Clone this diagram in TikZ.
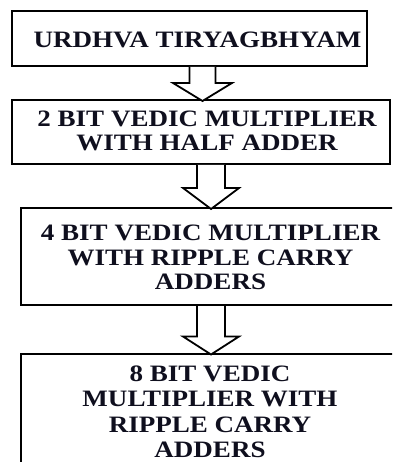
\documentclass[tikz,border=0pt]{standalone}
\usepackage{fontspec}
\setmainfont{Liberation Serif}[FakeStretch=1.15]
\usetikzlibrary{calc}
\definecolor{txt}{RGB}{15,15,30}
\tikzset{
  box/.style={draw=black, line width=2pt, fill=white, inner sep=0pt, rectangle},
  lbl/.style={text=txt, align=center, inner sep=0pt, font=\bfseries\fontsize{23.5}{24.5}\selectfont},
  blockarrow/.style={draw=black, line width=1.8pt, fill=white, line join=miter}
}
\begin{document}
\begin{tikzpicture}[x=1pt,y=-1pt]
\clip (0,0) rectangle (392,462);
\fill[white] (0,0) rectangle (392,462);
% boxes
\node[box, minimum width=355pt, minimum height=55pt] (b1) at (189.5,38.5) {};
\node[box, minimum width=378pt, minimum height=64pt] (b2) at (201,132) {};
\node[box, minimum width=379pt, minimum height=97pt] (b3) at (210.5,256.5) {};
\node[box, minimum width=379pt, minimum height=116pt] (b4) at (210.5,412) {};
% labels
\node[lbl] (l1) at (197.5,39.5) {URDHVA TIRYAGBHYAM};
\node[lbl] (l2) at (207,131) {2 BIT VEDIC MULTIPLIER\\WITH HALF ADDER};
\node[lbl] (l3) at (210.5,257.5) {4 BIT VEDIC MULTIPLIER\\WITH RIPPLE CARRY\\ADDERS};
\node[lbl, font=\bfseries\fontsize{23.5}{25.5}\selectfont] (l4) at (210,412) {8 BIT VEDIC\\MULTIPLIER WITH\\RIPPLE CARRY\\ADDERS};
% arrow tips
\coordinate (t1) at (202.5,101);
\coordinate (t2) at (211,209);
\coordinate (t3) at (211,354.5);
\draw[blockarrow] let \p1=(b1.south -| t1), \p2=(t1) in
  (\x1-13pt,\y1) -- (\x1-13pt,\y2+18pt) -- (\x1-29.5pt,\y2+18pt) -- (\x2,\y2)
  -- (\x1+29.5pt,\y2+18pt) -- (\x1+13pt,\y2+18pt) -- (\x1+13pt,\y1);
\draw[blockarrow] let \p1=(b2.south -| t2), \p2=(t2) in
  (\x1-14pt,\y1) -- (\x1-14pt,\y2+21pt) -- (\x1-28pt,\y2+21pt) -- (\x2,\y2)
  -- (\x1+28pt,\y2+21pt) -- (\x1+14pt,\y2+21pt) -- (\x1+14pt,\y1);
\draw[blockarrow] let \p1=(b3.south -| t3), \p2=(t3) in
  (\x1-14pt,\y1) -- (\x1-14pt,\y2+18pt) -- (\x1-28pt,\y2+18pt) -- (\x2,\y2)
  -- (\x1+28pt,\y2+18pt) -- (\x1+14pt,\y2+18pt) -- (\x1+14pt,\y1);
\end{tikzpicture}
\end{document}
